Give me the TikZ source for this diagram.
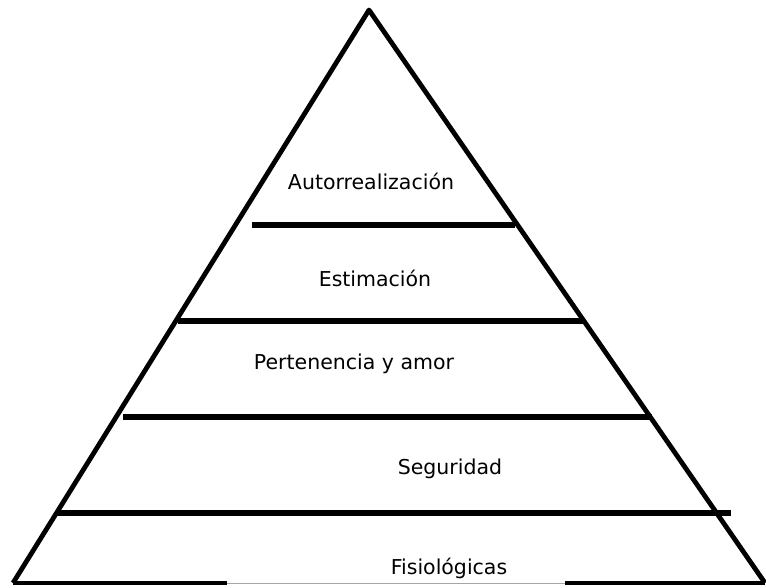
\documentclass[tikz,border=0pt]{standalone}
\usepackage{fontspec}
\setmainfont{DejaVu Sans}
\usetikzlibrary{positioning}

\begin{document}
\begin{tikzpicture}[
    x=1pt, y=-1pt,
    every node/.style={font=\fontsize{20.5}{24}\selectfont},
    side/.style={black, line width=4.8pt, line join=round},
    level/.style={black, line width=5.2pt},
    gap/.style={gray!70, line width=0.8pt}
]
    \useasboundingbox (0,0) rectangle (766,587);

    % Pyramid outline
    \coordinate (apex) at (369,10);
    \coordinate (baseL) at (13,583);
    \coordinate (baseR) at (765,583);
    \draw[side] (baseL) -- (apex) -- (baseR);

    % Base line (hidden behind the bottom label in the middle)
    \coordinate (gapL) at (227,583);
    \coordinate (gapR) at (565,583);
    \draw[side] (baseL) -- (gapL);
    \draw[gap] (gapL) -- (gapR);
    \draw[side] (gapR) -- (baseR);

    % Level separators
    \draw[level] (252,225) -- (515,225);
    \draw[level] (178,321) -- (585,321);
    \draw[level] (123,417) -- (652,417);
    \draw[level] (58,513) -- (731,513);

    % Level labels
    \node[anchor=center] (autorrealizacion) at (371,181) {Autorrealización};
    \node[anchor=center] (estimacion) at (375,278) {Estimación};
    \node[anchor=center] (pertenencia) at (354,364) {Pertenencia y amor};
    \node[anchor=center] (seguridad) at (450,469) {Seguridad};
    \node[anchor=center] (fisiologicas) at (449,568) {Fisiológicas};

\end{tikzpicture}
\end{document}
